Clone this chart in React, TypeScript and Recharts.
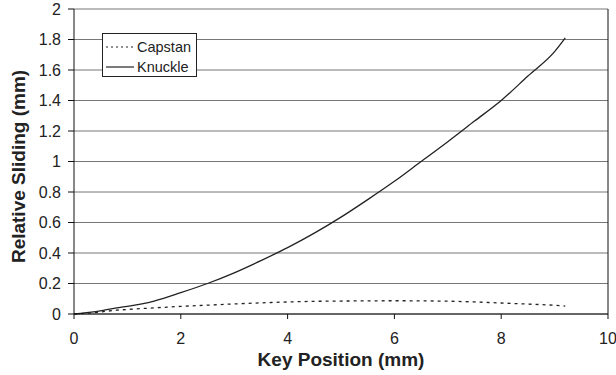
import { LineChart, Line, XAxis, YAxis, CartesianGrid, ReferenceLine } from "recharts";

const positions = [0, 0.4, 0.8, 1.0, 1.5, 2, 2.5, 3, 3.5, 4, 4.5, 5, 5.5, 6, 6.5, 7, 7.5, 8, 8.5, 9, 9.2];
const knuckle = [0, 0.015, 0.04, 0.05, 0.085, 0.14, 0.2, 0.27, 0.35, 0.435, 0.53, 0.635, 0.75, 0.87, 1.0, 1.13, 1.265, 1.4, 1.56, 1.72, 1.81];
const capstan = [0, 0.01, 0.025, 0.03, 0.04, 0.05, 0.058, 0.066, 0.073, 0.079, 0.083, 0.085, 0.086, 0.087, 0.086, 0.084, 0.079, 0.072, 0.065, 0.057, 0.052];
const xTicks = [0, 2, 4, 6, 8, 10];
const yTicks = [0, 0.2, 0.4, 0.6, 0.8, 1, 1.2, 1.4, 1.6, 1.8, 2];

const data = positions.map((x, i) => ({ x, knuckle: knuckle[i], capstan: capstan[i] }));

const font = "Arial, 'Liberation Sans', sans-serif";
const titleStyle = { fontSize: 19, fontWeight: "bold" as const, fill: "#222", fontFamily: font };

const LegendBox = () => (
  <div
    style={{
      position: "absolute",
      left: 102,
      top: 33,
      width: 93,
      height: 42,
      border: "1px solid #222",
      background: "#fff",
    }}
  >
    <svg width={93} height={42} style={{ fontFamily: font, fontSize: 14.5 }}>
      <line x1={3} y1={13} x2={31} y2={13} stroke="#222" strokeWidth={1.2} strokeDasharray="2 3" />
      <text x={34} y={18} fill="#222">Capstan</text>
      <line x1={3} y1={33} x2={31} y2={33} stroke="#222" strokeWidth={1.2} />
      <text x={34} y={38} fill="#222">Knuckle</text>
    </svg>
  </div>
);

const YTitle = ({ viewBox }: any) => {
  const cx = viewBox.x + 18;
  const cy = viewBox.y + viewBox.height / 2 + 5;
  return (
    <text
      x={cx}
      y={cy}
      transform={`rotate(-90, ${cx}, ${cy})`}
      textAnchor="middle"
      dominantBaseline="central"
      style={titleStyle}
    >
      Relative Sliding (mm)
    </text>
  );
};

export default function App() {
  return (
    <div style={{ position: "absolute", left: 0, top: 0, background: "#fff" }}>
      <LineChart width={616} height={375} data={data} margin={{ top: 9, right: 8, left: 0, bottom: 0 }}>
        <CartesianGrid vertical={false} stroke="#777" strokeWidth={1} />
        <XAxis
          dataKey="x"
          type="number"
          domain={[0, 10]}
          ticks={xTicks}
          height={61}
          stroke="#111"
          tickSize={5}
          tickMargin={14}
          tick={{ fill: "#222", fontSize: 16, fontFamily: font }}
          label={{ value: "Key Position (mm)", position: "insideBottom", offset: 9, style: titleStyle }}
        />
        <YAxis
          type="number"
          domain={[0, 2]}
          ticks={yTicks}
          width={74}
          stroke="#111"
          tickSize={6}
          tickMargin={7}
          tick={{ fill: "#222", fontSize: 16, fontFamily: font }}
          tickFormatter={(v: number) => String(Math.round(v * 10) / 10)}
          label={<YTitle />}
        />
        <ReferenceLine x={10} stroke="#111" />
        <Line type="monotone" dataKey="capstan" stroke="#222" strokeWidth={1.3} strokeDasharray="3 4" dot={false} isAnimationActive={false} />
        <Line type="monotone" dataKey="knuckle" stroke="#222" strokeWidth={1.3} dot={false} isAnimationActive={false} />
      </LineChart>
      <LegendBox />
    </div>
  );
}
